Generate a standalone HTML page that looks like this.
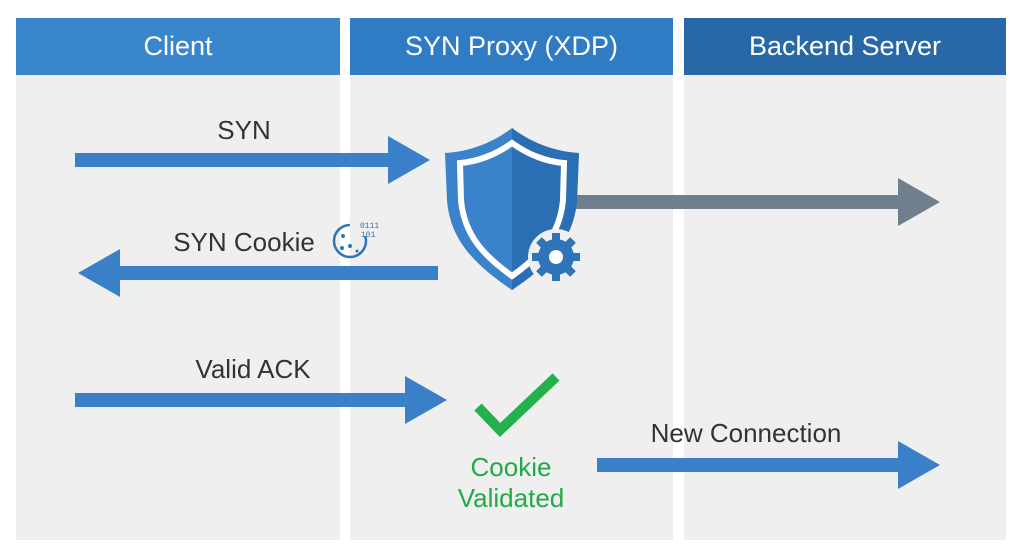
<!DOCTYPE html>
<html><head><style>
body{margin:0;width:1024px;height:559px;background:#fff;overflow:hidden;font-family:"Liberation Sans",sans-serif;position:relative}
.col{position:absolute;top:18px;height:522px;background:#efefef}
.hd{position:absolute;top:0;left:0;right:0;height:57px;color:#fff;font-size:27px;display:flex;align-items:center;justify-content:center}
.t{position:absolute;font-size:26px;color:#333;transform:translateX(-50%);white-space:nowrap}
</style></head><body>
<div class="col" style="left:16px;width:324px"><div class="hd" style="background:#3a86cd">Client</div></div>
<div class="col" style="left:350px;width:323px"><div class="hd" style="background:#2f7bc4">SYN Proxy (XDP)</div></div>
<div class="col" style="left:684px;width:322px"><div class="hd" style="background:#2868a6">Backend Server</div></div>
<svg width="1024" height="559" style="position:absolute;left:0;top:0">
<g fill="#3a80c9">
<polygon points="75,153 388,153 388,136 430,160 388,184 388,167 75,167"/>
<polygon points="438,266 120,266 120,249 78,273 120,297 120,280 438,280"/>
<polygon points="75,393 405,393 405,376 447,400 405,424 405,407 75,407"/>
<polygon points="597,458 898,458 898,441 940,465 898,489 898,472 597,472"/>
</g>
<polygon fill="#6f7f8e" points="575,195 898,195 898,178 940,202 898,226 898,209 575,209"/>
<path d="M512,128 C490,145 465,152 445,153 L447,200 C450,240 475,265 512,290 C549,265 574,240 577,200 L579,153 C559,152 534,145 512,128Z" fill="#3a82c9"/>
<path d="M512,128 C534,145 559,152 579,153 L577,200 C574,240 549,265 512,290Z" fill="#2a6fb4"/>
<path d="M512,143 C494,156 475,162 460,163 L461,200 C464,235 484,256 512,276 C540,256 560,235 563,200 L564,163 C549,162 530,156 512,143Z" fill="none" stroke="#fff" stroke-width="6"/>
<circle cx="556" cy="257" r="28" fill="#efefef"/>
<g fill="#2f73b8"><circle cx="556" cy="257" r="18"/>
<g stroke="#2f73b8" stroke-width="8">
<line x1="556" y1="233" x2="556" y2="281"/><line x1="532" y1="257" x2="580" y2="257"/>
<line x1="539" y1="240" x2="573" y2="274"/><line x1="573" y1="240" x2="539" y2="274"/></g>
<circle cx="556" cy="257" r="7" fill="#fff"/></g>
<circle cx="350" cy="241" r="16" fill="none" stroke="#2f73b8" stroke-width="2.5"/>
<rect x="350" y="222" width="30" height="14" fill="#efefef"/>
<text x="360" y="228" font-size="8" fill="#2f73b8" font-family="Liberation Mono">0111</text>
<text x="361" y="237" font-size="8" fill="#2f73b8" font-family="Liberation Mono">101</text>
<g fill="#2f73b8"><circle cx="343" cy="236" r="2"/><circle cx="350" cy="246" r="2"/><circle cx="342" cy="248" r="2"/><circle cx="357" cy="251" r="1.5"/></g>
<polyline points="478,407 500,430 556,377" fill="none" stroke="#22b14c" stroke-width="10"/>
</svg>
<div class="t" style="left:244px;top:115px">SYN</div>
<div class="t" style="left:244px;top:227px">SYN Cookie</div>
<div class="t" style="left:253px;top:354px">Valid ACK</div>
<div class="t" style="left:746px;top:418px">New Connection</div>
<div class="t" style="left:511px;top:452px;color:#22a94a;text-align:center;line-height:31px">Cookie<br>Validated</div>
</body></html>
